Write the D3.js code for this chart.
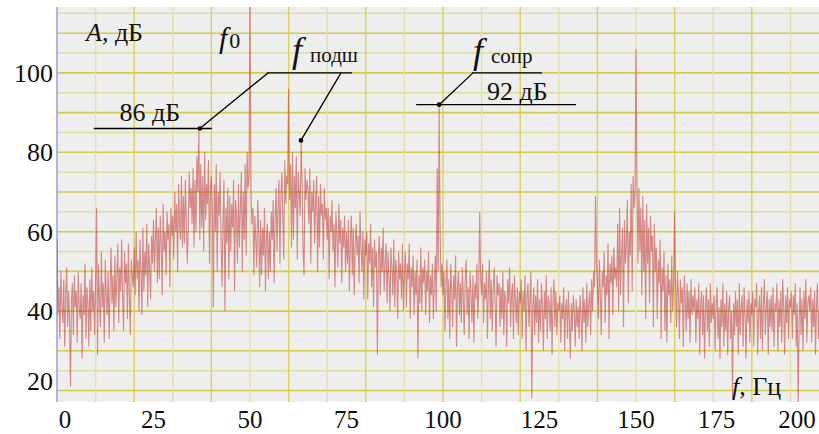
<!DOCTYPE html>
<html>
<head>
<meta charset="utf-8">
<script src="https://cdn.jsdelivr.net/npm/d3@7"></script>
<style>
  html, body { margin: 0; padding: 0; background: #ffffff; }
  svg { display: block; }
  text { font-family: "Liberation Serif", "Times New Roman", serif; fill: #111; }
</style>
</head>
<body>
<svg id="chart" width="819" height="434"></svg>
<script>
// Spectrum amplitude, dB, sampled every 0.25 Hz starting at 0 Hz (20 samples = 5 Hz per row)
const freqStep = 0.25;
const spectrum = [
  58,39,46,33,50,42,37,48,31,44,51,36,45,38,21,43,47,34,49,41,
  45,32,50,41,38,47,28,44,39,52,33,46,42,31,48,35,51,40,45,34,
  48,66,29,52,43,36,55,41,47,32,53,44,39,50,33,46,56,42,49,35,
  54,41,48,57,37,51,45,58,43,35,55,47,52,38,57,44,34,53,49,46,
  56,44,60,48,53,40,58,50,39,61,45,55,49,62,41,57,51,43,59,52,
  63,50,58,66,47,61,48,64,57,44,67,55,60,49,65,58,62,46,66,59,
  64,53,70,60,67,50,72,62,58,74,56,69,57,73,63,52,60,75,66,71,
  62,76,56,73,60,79,70,86,58,77,61,74,55,80,63,72,67,78,52,71,
  74,66,41,72,60,77,50,70,64,75,58,46,62,73,40,66,57,71,48,69,
  55,67,61,73,45,68,64,52,72,56,66,75,50,70,58,77,54,80,71,74,
  122,70,62,66,49,64,58,51,68,60,46,63,49,61,54,66,45,59,62,48,
  60,50,65,58,68,47,63,71,55,66,73,52,69,75,64,53,78,67,74,72,
  96,68,77,56,80,58,74,66,79,53,75,70,64,83,72,55,49,76,68,73,
  71,62,76,52,70,65,73,57,68,74,50,69,56,72,64,67,53,71,63,66,
  58,66,48,64,60,68,55,62,46,65,59,51,67,57,63,47,61,56,64,50,
  60,52,63,45,58,64,49,61,44,57,62,54,59,47,65,56,50,60,43,58,
  54,60,43,57,52,62,46,56,41,58,51,55,29,53,59,44,56,50,61,45,
  52,57,42,55,49,40,56,51,44,58,41,53,50,38,55,48,52,43,57,40,
  50,55,41,52,48,57,38,51,46,54,39,50,44,53,28,49,42,56,40,51,
  47,53,39,50,45,55,37,49,44,52,38,47,54,40,76,50,92,60,46,52,
  44,50,35,47,53,38,48,33,52,45,36,49,43,54,31,46,50,39,47,37,
  51,44,34,48,53,39,46,33,50,44,37,49,32,47,43,52,38,45,65,48,
  44,52,37,47,43,50,33,46,53,38,48,35,45,51,42,31,49,44,47,36,
  46,38,50,34,45,43,31,48,42,51,36,44,47,33,49,43,37,46,34,45,
  42,48,33,45,40,49,30,44,47,36,43,50,18,41,46,34,44,37,48,32,
  43,35,47,41,30,45,38,49,33,44,42,35,46,29,43,48,36,45,34,42,
  40,44,32,42,38,46,30,41,43,33,45,37,28,42,35,44,40,31,43,36,
  41,33,44,39,30,46,37,43,32,47,36,42,45,34,48,40,50,46,69,52,
  47,38,53,44,34,50,46,55,37,49,44,57,33,52,47,54,39,56,48,51,
  46,62,40,66,44,55,61,36,63,52,57,68,42,60,54,72,45,74,66,70,
  106,73,52,71,55,66,44,69,50,63,38,67,52,61,42,64,55,59,36,62,
  50,56,38,53,47,58,33,51,45,55,35,49,32,52,44,48,37,54,40,47,
  65,46,36,50,44,33,48,42,46,31,49,43,35,47,38,45,32,48,39,44,
  40,46,32,43,38,47,29,42,45,34,44,28,41,46,35,43,31,47,37,42,
  38,44,30,42,46,33,41,28,43,36,47,31,42,35,45,29,41,44,33,40,
  18,42,34,45,36,43,29,47,34,41,44,31,46,39,28,43,37,45,32,42,
  39,45,31,43,41,47,29,40,44,33,46,30,42,48,34,41,45,29,43,36,
  44,35,46,31,42,40,47,30,43,36,45,32,48,41,29,44,37,46,33,43,
  41,45,33,44,39,47,31,42,15,37,46,34,43,30,45,38,48,32,42,44,
  40,46,32,43,36,45,29,42,47,33,41,44,30,46,37,43,31,45,38,39
];

// Axis tick labels
const xTickLabels = [0, 25, 50, 75, 100, 125, 150, 175, 200];
const yTickLabels = [20, 40, 60, 80, 100];

// Marked peaks: {f: Hz, a: dB}
const peakLeft = { f: 37, a: 86 };      // sideband "86 дБ"
const peakBearing = { f: 63.2, a: 83 }; // f подш
const peakRes = { f: 99, a: 92 };       // f сопр

const W = 819, H = 434;
const plot = { left: 57, right: 819, top: 7, bottom: 402 };

const svg = d3.select("#chart");

const x = d3.scaleLinear().domain([0, 197.4]).range([plot.left, plot.right]);
const y = d3.scaleLinear().domain([17.1, 116.6]).range([plot.bottom, plot.top]);

// plot background
svg.append("rect")
  .attr("x", plot.left).attr("y", plot.top)
  .attr("width", plot.right - plot.left).attr("height", plot.bottom - plot.top)
  .attr("fill", "#eeeeee");

// grid: every 5 dB horizontally, every 10 Hz vertically
const gridG = svg.append("g");
d3.range(20, 116, 5).forEach(v => {
  const major = v % 10 === 0;
  gridG.append("line")
    .attr("x1", plot.left).attr("x2", plot.right)
    .attr("y1", y(v)).attr("y2", y(v))
    .attr("stroke", major ? "#d3ca4c" : "#e2dd9e")
    .attr("stroke-width", major ? 1.6 : 1.5);
});
d3.range(10, 200, 10).forEach(v => {
  const major = v % 20 === 0;
  gridG.append("line")
    .attr("x1", x(v)).attr("x2", x(v))
    .attr("y1", plot.top).attr("y2", plot.bottom)
    .attr("stroke", major ? "#d8d05c" : "#e4e0a8")
    .attr("stroke-width", 1.4);
});

// left axis line
svg.append("line")
  .attr("x1", plot.left).attr("x2", plot.left)
  .attr("y1", plot.top).attr("y2", plot.bottom)
  .attr("stroke", "#a3a3dc").attr("stroke-width", 1.6);

// spectrum trace
svg.append("clipPath").attr("id", "plotClip")
  .append("rect")
  .attr("x", plot.left).attr("y", plot.top)
  .attr("width", plot.right - plot.left).attr("height", plot.bottom - plot.top);

const line = d3.line()
  .x((d, i) => x(i * freqStep))
  .y(d => y(d));

svg.append("path")
  .datum(spectrum)
  .attr("clip-path", "url(#plotClip)")
  .attr("d", line)
  .attr("fill", "none")
  .attr("stroke", "rgba(185, 25, 25, 0.48)")
  .attr("stroke-width", 1.1)
  .attr("stroke-linejoin", "bevel");

// y tick labels
yTickLabels.forEach(v => {
  svg.append("text")
    .attr("x", plot.left - 4)
    .attr("y", Math.min(y(v), plot.bottom - 21))
    .attr("dy", "0.35em")
    .attr("text-anchor", "end")
    .attr("font-size", 26)
    .text(v);
});

// x tick labels (labels past 150 Hz are squeezed inside the frame)
const xLast = W - 22;
xTickLabels.forEach(v => {
  let px = x(v);
  if (v > 150) px = x(150) + (v - 150) / 50 * (xLast - x(150));
  px = Math.max(px, plot.left + 8);
  svg.append("text")
    .attr("x", px).attr("y", 428)
    .attr("text-anchor", "middle")
    .attr("font-size", 25)
    .text(v);
});

// axis titles
const yTitle = svg.append("text").attr("x", 86).attr("y", 41).attr("font-size", 26);
yTitle.append("tspan").attr("font-style", "italic").text("A");
yTitle.append("tspan").text(", дБ");

const xTitle = svg.append("text").attr("x", 732).attr("y", 395).attr("font-size", 26);
xTitle.append("tspan").attr("font-style", "italic").text("f");
xTitle.append("tspan").text(", Гц");

// f0 label above the 50 Hz line
const f0 = svg.append("text").attr("x", 219).attr("y", 48);
f0.append("tspan").attr("font-style", "italic").attr("font-size", 30).text("f");
f0.append("tspan").attr("font-size", 22).attr("dx", 2).text("0");

// annotation leaders
const ann = svg.append("g").attr("stroke", "#000").attr("stroke-width", 1.3).attr("fill", "none");
const yElbow = y(100);

// 86 dB sideband
const pL = [x(peakLeft.f), y(peakLeft.a)];
ann.append("line").attr("x1", pL[0] - 106).attr("x2", pL[0] + 12).attr("y1", pL[1]).attr("y2", pL[1]);
ann.append("line").attr("x1", pL[0]).attr("y1", pL[1]).attr("x2", 268).attr("y2", yElbow);
ann.append("line").attr("x1", 267).attr("x2", 352).attr("y1", yElbow).attr("y2", yElbow);

// f подш
const pB = [x(peakBearing.f), y(peakBearing.a)];
ann.append("line").attr("x1", pB[0]).attr("y1", pB[1]).attr("x2", 341).attr("y2", yElbow);

// f сопр
const pR = [x(peakRes.f), y(peakRes.a)];
ann.append("line").attr("x1", pR[0] - 23).attr("x2", 576).attr("y1", pR[1]).attr("y2", pR[1]);
ann.append("line").attr("x1", pR[0]).attr("y1", pR[1]).attr("x2", 473).attr("y2", yElbow);
ann.append("line").attr("x1", 472).attr("x2", 542).attr("y1", yElbow).attr("y2", yElbow);

[pL, pB, pR].forEach(p => {
  svg.append("circle").attr("cx", p[0]).attr("cy", p[1]).attr("r", 2.3).attr("fill", "#000");
});

// annotation texts
svg.append("text").attr("x", pL[0] - 50).attr("y", pL[1] - 7)
  .attr("text-anchor", "middle").attr("font-size", 26).text("86 дБ");
svg.append("text").attr("x", 487).attr("y", pR[1] - 5)
  .attr("font-size", 26).text("92 дБ");

const fb = svg.append("text").attr("x", 292).attr("y", 62);
fb.append("tspan").attr("font-style", "italic").attr("font-size", 36).text("f");
fb.append("tspan").attr("font-size", 21).attr("dx", 8).text("подш");

const fr = svg.append("text").attr("x", 473).attr("y", 63);
fr.append("tspan").attr("font-style", "italic").attr("font-size", 36).text("f");
fr.append("tspan").attr("font-size", 21).attr("dx", 8).text("сопр");
</script>
</body>
</html>
